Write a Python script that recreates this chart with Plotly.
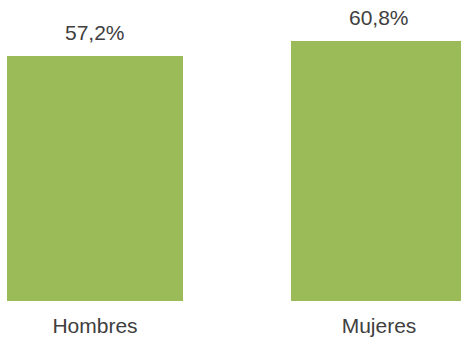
import plotly.graph_objects as go

categories = ["Hombres", "Mujeres"]
values = [57.2, 60.8]
value_labels = ["57,2%", "60,8%"]

bar_color = "#9BBB59"
text_color = "#404040"
font_family = "Liberation Sans, Arial, sans-serif"

fig = go.Figure(
    go.Bar(
        x=[0, 1],
        y=values,
        width=0.62,
        marker=dict(color=bar_color, line=dict(width=0)),
        hoverinfo="skip",
    )
)

# value labels sit just above each bar
for i, (v, lab) in enumerate(zip(values, value_labels)):
    fig.add_annotation(
        x=i, y=v, text=lab, showarrow=False,
        xanchor="center", yanchor="bottom", yshift=10,
        font=dict(family=font_family, size=21, color=text_color),
    )

fig.update_layout(
    width=461, height=338,
    margin=dict(l=0, r=0, t=0, b=37),
    paper_bgcolor="white", plot_bgcolor="white",
    showlegend=False,
    bargap=0,
    font=dict(family=font_family, size=21, color=text_color),
)
fig.update_xaxes(
    range=[-0.3345, 1.2887],
    tickmode="array", tickvals=[0, 1], ticktext=categories,
    showgrid=False, zeroline=False, showline=False, ticks="",
    tickfont=dict(family=font_family, size=21, color=text_color),
    ticklabelstandoff=10,
)
fig.update_yaxes(
    range=[0, 70.3], visible=False, showgrid=False, zeroline=False,
)

fig.write_html("out.html")
